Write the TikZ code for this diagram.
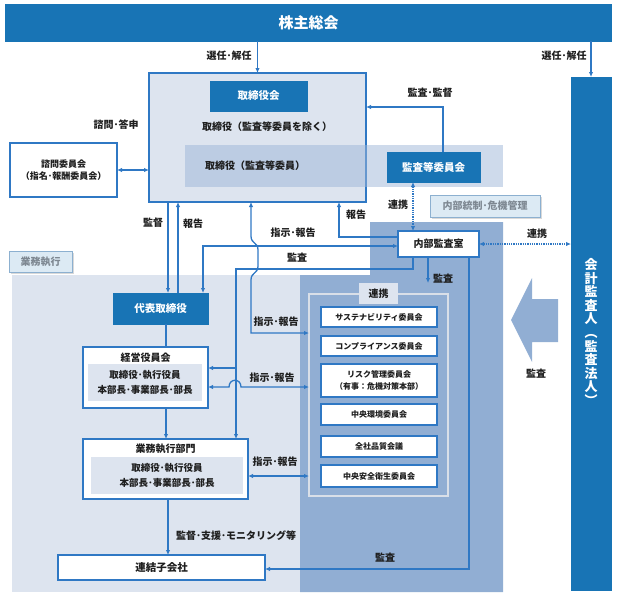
\documentclass[tikz,border=0pt]{standalone}
\usepackage{fontspec}
\setmainfont{Noto Sans CJK JP}
\usetikzlibrary{arrows.meta,calc}
\definecolor{dblue}{HTML}{1874B5}
\definecolor{lblue}{HTML}{2F78C4}
\definecolor{frfill}{HTML}{DDE4EF}
\definecolor{bandc}{HTML}{9DB6D8}
\definecolor{darkreg}{HTML}{91AED3}
\definecolor{tagfill}{HTML}{DCEAF4}
\definecolor{tagline}{HTML}{8CB0D0}
\definecolor{txt}{HTML}{1E1E1E}
\definecolor{graytxt}{HTML}{7E8892}
\definecolor{framegray}{HTML}{D9DFE8}
\begin{document}
\begin{tikzpicture}[x=1pt,y=-1pt,
  every node/.style={inner sep=0pt,outer sep=0pt},
  darkbox/.style={fill=dblue,draw=dblue,text=white,font=\fontsize{10.5}{12}\selectfont\bfseries},
  whitebox/.style={fill=white,draw=lblue,line width=1.8pt},
  comm/.style={whitebox,minimum width=116pt,font=\fontsize{8}{10}\selectfont\bfseries,align=center,text=txt},
  lab/.style={font=\fontsize{10}{12}\selectfont\bfseries,text=txt},
  tip/.tip={Latex[length=5pt,width=4.5pt]},
  arr/.style={draw=lblue,line width=1.3pt,-tip},
  darr/.style={draw=lblue,line width=1.3pt,tip-tip},
  ln/.style={draw=lblue,line width=1.3pt},
  dotarr/.style={draw=lblue,line width=1.3pt,densely dotted,tip-tip},
  tagbox/.style={fill=tagfill,draw=tagline,line width=1pt,text=graytxt,font=\fontsize{10}{12}\selectfont\bfseries},
]
\useasboundingbox (0,0) rectangle (623,598);

% regions
\fill[frfill] (12,275) rectangle (503,592);
\fill[darkreg] (300,275) -- (370,275) -- (370,222) -- (503,222) -- (503,592) -- (300,592) -- cycle;

% block arrow
\fill[darkreg] (511,320) -- (532,278) -- (532,299) -- (558,299) -- (558,342) -- (532,342) -- (532,362) -- cycle;
\node[lab] (lkansa5) at (536,374) {監査};

% tags
\fill[black!15] (10.5,252.5) rectangle (73.5,273.5);
\node[tagbox,minimum width=63pt,minimum height=21pt] (tagg) at (40.5,261.5) {業務執行};
\fill[black!15] (431.5,196.5) rectangle (541.5,218.5);
\node[tagbox,minimum width=110pt,minimum height=22pt] (tagn) at (485,206) {内部統制･危機管理};

% top bar
\node[darkbox,minimum width=606pt,minimum height=37pt,font=\fontsize{15}{17}\selectfont\bfseries] (sh) at (308.5,22.5) {株主総会};

% board frame
\node[fill=frfill,draw=lblue,line width=1.8pt,minimum width=217pt,minimum height=129pt] (board) at (257.5,137.5) {};
\node[darkbox,minimum width=97pt,minimum height=30pt] (tk) at (258.5,96) {取締役会};
\node[lab] (tkx) at (267,127) {取締役（監査等委員を除く）};
\node[fill=bandc,fill opacity=0.5,minimum width=318pt,minimum height=42pt] (band) at (344,166) {};
\node[lab] (tkk) at (255,166) {取締役（監査等委員）};
\node[darkbox,minimum width=93pt,minimum height=30pt] (kansa) at (433.5,167) {監査等委員会};

% advisory committee
\node[whitebox,minimum width=107pt,minimum height=54pt,align=center,font=\fontsize{9}{12}\selectfont\bfseries,text=txt] (shimon) at (63.5,170) {諮問委員会\\（指名･報酬委員会）};

% auditor
\node[darkbox,minimum width=40pt,minimum height=513pt] (aud) at (591,333.5) {};
\node[text=white,font=\fontsize{13}{13.6}\selectfont\bfseries,align=center] (audt) at (591,332) {会\\計\\監\\査\\人\\︵\\監\\査\\法\\人\\︶};

% internal audit
\node[whitebox,minimum width=81pt,minimum height=26pt,font=\fontsize{10}{12}\selectfont\bfseries,text=txt] (naibu) at (438.5,244) {内部監査室};

% executive
\node[darkbox,minimum width=95pt,minimum height=31pt] (daihyo) at (160.5,308.5) {代表取締役};
\node[whitebox,minimum width=125pt,minimum height=61pt] (keiei) at (145.5,377.5) {};
\fill[frfill] (88,364) rectangle (202,401);
\node[lab] (keieit) at (145.5,358) {経営役員会};
\node[lab,align=center,font=\fontsize{9.5}{15}\selectfont\bfseries] (keieis) at (145,382.5) {取締役･執行役員\\本部長･事業部長･部長};
\node[whitebox,minimum width=165pt,minimum height=60pt] (gyomu) at (165.5,469) {};
\fill[frfill] (91,457) rectangle (243,494);
\node[lab] (gyomut) at (165.5,449) {業務執行部門};
\node[lab,align=center,font=\fontsize{9.5}{15}\selectfont\bfseries] (gyomus) at (167,475.5) {取締役･執行役員\\本部長･事業部長･部長};
\node[whitebox,minimum width=207pt,minimum height=25pt,font=\fontsize{10.5}{12}\selectfont\bfseries,text=txt] (renketsu) at (161.5,567.5) {連結子会社};

% committees frame
\node[draw=framegray,line width=1.5pt,minimum width=139pt,minimum height=202pt] (renkei) at (378.5,395) {};
\node[fill=frfill,minimum width=39pt,minimum height=21pt,font=\fontsize{10}{12}\selectfont\bfseries,text=txt] (renkeil) at (378.5,293.5) {連携};
\node[comm,minimum height=20pt] (c1) at (379,317) {サステナビリティ委員会};
\node[comm,minimum height=20pt] (c2) at (379,346) {コンプライアンス委員会};
\node[comm,minimum height=33pt,font=\fontsize{8}{12}\selectfont\bfseries] (c3) at (379,380.5) {リスク管理委員会\\（有事：危機対策本部）};
\node[comm,minimum height=21pt] (c4) at (379,414.5) {中央環境委員会};
\node[comm,minimum height=21pt] (c5) at (379,446.5) {全社品質会議};
\node[comm,minimum height=22pt] (c6) at (379,476) {中央安全衛生委員会};

% helper coordinates
\coordinate (xA) at (413,0);
\coordinate (xB) at (339,0);
\coordinate (xC) at (168,0);
\coordinate (xD) at (178,0);
\coordinate (xE) at (203,0);
\coordinate (xF) at (469,0);
\coordinate (xG) at (428,0);
\coordinate (xH) at (166,0);
\coordinate (yA) at (0,237);
\coordinate (yB) at (0,246);
\coordinate (yC) at (0,107);
\coordinate (yD) at (0,569);
\coordinate (yE) at (0,476);
\coordinate (yF) at (0,387);
\coordinate (yG) at (0,368);
\coordinate (yH) at (0,333);

% connectors
\draw[arr] (sh.south -| board.north) -- (board.north);
\draw[arr] (sh.south -| aud.north) -- (aud.north);
\draw[darr] (shimon.east) -- (shimon.east -| board.west);
\draw[arr] ([xshift=9.5pt]kansa.north) |- (board.east |- yC);
\draw[dotarr] (kansa.south -| xA) -- (naibu.north -| xA);
\draw[dotarr] (naibu.east) -- (naibu.east -| aud.west);
\draw[arr] (naibu.west |- yA) -| (board.south -| xB);
\draw[arr] (board.south -| xC) -- (daihyo.north -| xC);
\draw[arr] (daihyo.north -| xD) -- (board.south -| xD);
\draw[darr] (daihyo.north -| xE) |- (naibu.west |- yB);
\draw[arr] (naibu.south -| xA) -- (413,269) -- (236,269) -- (gyomu.north -| 236,0);
\draw[arr] (236,368) -- (keiei.east |- yG);
\draw[darr] (board.south -| 251,0) -- (251,236) .. controls (251,244) and (258,242) .. (258,250) -- (258,266) .. controls (258,274) and (251,272) .. (251,280) -- (251,333) -- (renkei.west |- yH);
\draw[darr] (keiei.east |- yF) -- (229,387) .. controls (229,378) and (241,378) .. (241,387) -- (renkei.west |- yF);
\draw[darr] (gyomu.east |- yE) -- (renkei.west |- yE);
\draw[ln] (daihyo.south -| xH) -- (keiei.north -| xH);
\draw[arr] (keiei.south -| xH) -- (gyomu.north -| xH);
\draw[arr] (gyomu.south -| xC) -- (renketsu.north -| xC);
\draw[arr] (naibu.south -| xF) |- (renketsu.east |- yD);
\draw[arr] (naibu.south -| xG) -- (renkeil.north -| xG);

% labels
\node[lab] (l1) at (229,56) {選任･解任};
\node[lab] (l2) at (564,56) {選任･解任};
\node[lab] (l3) at (116,125) {諮問･答申};
\node[lab] (l4) at (430,93) {監査･監督};
\node[lab] (l5) at (398,205) {連携};
\node[lab] (l6) at (537,234) {連携};
\node[lab] (l7) at (356,215) {報告};
\node[lab] (l8) at (153,223) {監督};
\node[lab] (l9) at (193,224) {報告};
\node[lab] (l10) at (293,233) {指示･報告};
\node[lab] (l11) at (297,258) {監査};
\node[lab] (l12) at (276,322) {指示･報告};
\node[lab] (l13) at (272,378) {指示･報告};
\node[lab] (l14) at (275,462) {指示･報告};
\node[lab] (l15) at (443,279) {監査};
\node[lab] (l16) at (236,536) {監督･支援･モニタリング等};
\node[lab] (l17) at (385,558) {監査};
\end{tikzpicture}
\end{document}
